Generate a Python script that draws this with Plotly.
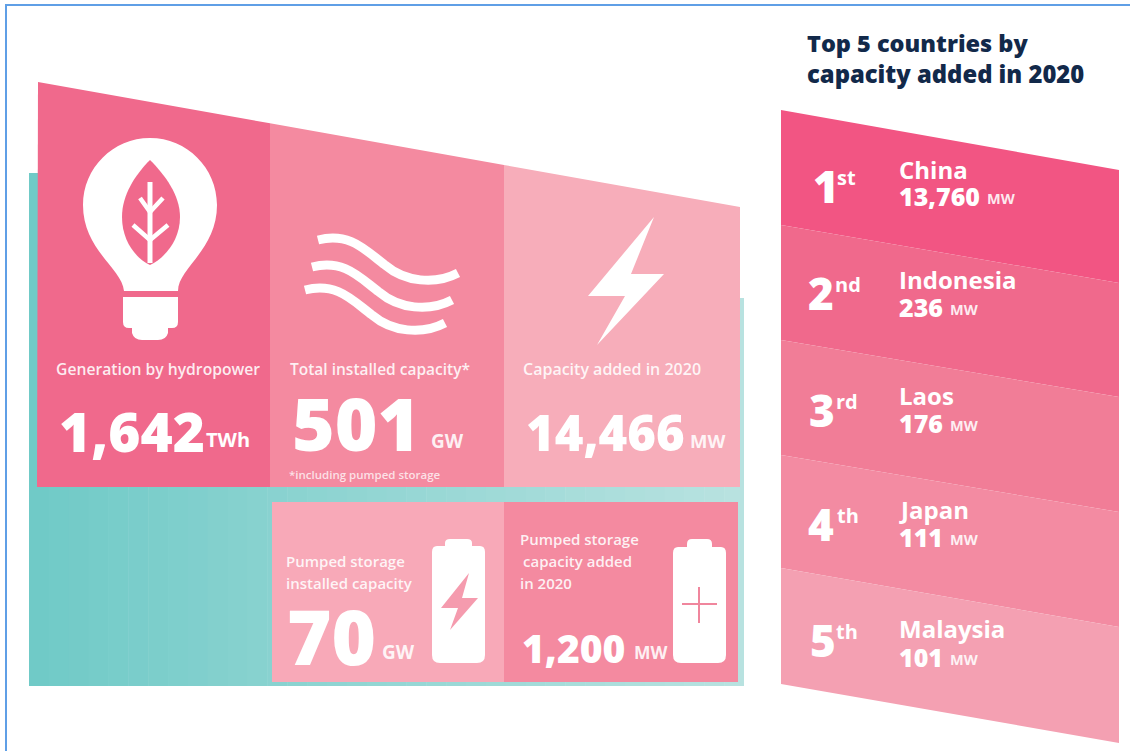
import plotly.graph_objects as go

# ---- data ----
stat_labels = ["Generation by hydropower", "Total installed capacity*", "Capacity added in 2020"]
stat_values = ["1,642", "501", "14,466"]
stat_units = ["TWh", "GW", "MW"]
storage_values = ["70", "1,200"]
storage_units = ["GW", "MW"]
footnote = "*including pumped storage"
title_lines = ["Top 5 countries by", "capacity added in 2020"]
ranks = ["1", "2", "3", "4", "5"]
rank_suffixes = ["st", "nd", "rd", "th", "th"]
countries = ["China", "Indonesia", "Laos", "Japan", "Malaysia"]
country_values = ["13,760", "236", "176", "111", "101"]
country_unit = "MW"

# ---- styling ----
P1, P2, P3 = "#f0698c", "#f48aa0", "#f7adba"
BANDS = ["#f25583", "#f0698c", "#f17d97", "#f38ba2", "#f4a0b2"]
NAVY = "#12294a"
FONT = "Open Sans"
SOFT = "rgba(255,255,255,0.88)"

fig = go.Figure()
shapes = []


def poly(xs, ys, color):
    fig.add_trace(go.Scatter(x=xs + xs[:1], y=ys + ys[:1], mode="lines", fill="toself",
                             fillcolor=color, line=dict(width=0), hoverinfo="skip",
                             showlegend=False))


def path(d, fill=None, line=None, width=0):
    shapes.append(dict(type="path", path=d, xref="x", yref="y", layer="above",
                       fillcolor=fill or "rgba(0,0,0,0)",
                       line=dict(color=line or "rgba(0,0,0,0)", width=width)))


def label(x, y, text, size, color="white", weight=700, anchor="left"):
    fig.add_annotation(x=x, y=y, text=text, xref="x", yref="y", showarrow=False,
                       xanchor=anchor, yanchor="middle", align="left", borderpad=0,
                       font=dict(family=FONT, size=size, color=color, weight=weight))


def top_edge(x):
    return 82 + (x - 38) * 125 / 702


# teal backdrop as narrow strips (horizontal gradient)
n = 36
x0, x1 = 29.0, 744.0
c0, c1 = (112, 202, 199), (184, 226, 224)
for i in range(n):
    a = x0 + (x1 - x0) * i / n
    b = x0 + (x1 - x0) * (i + 1) / n + 0.5
    t = i / (n - 1)
    c = tuple(round(c0[k] + (c1[k] - c0[k]) * t) for k in range(3))
    shapes.append(dict(type="rect", x0=a, x1=min(b, x1), y0=173 if a < 100 else 298, y1=686,
                       xref="x", yref="y", layer="below", line=dict(width=0),
                       fillcolor=f"rgb{c}"))

# upper panels
poly([38, 270, 270, 37], [top_edge(38), top_edge(270), 487, 487], P1)
poly([270, 504, 504, 270], [top_edge(270), top_edge(504), 487, 487], P2)
poly([504, 740, 740, 504], [top_edge(504), top_edge(740), 487, 487], P3)
# lower panels
poly([272, 504, 504, 272], [502, 502, 682, 682], "#f8a9b8")
poly([504, 738, 738, 504], [502, 502, 682, 682], P2)

# ranking bands
left_edges = [110, 225, 340, 455, 568, 684]
right_edges = [170, 283, 397, 512, 627, 743]
for i, col in enumerate(BANDS):
    poly([781, 1119, 1119, 781],
         [left_edges[i], right_edges[i], right_edges[i + 1], left_edges[i + 1]], col)

# blue page frame
shapes.append(dict(type="rect", x0=5, x1=7, y0=4, y1=751, xref="x", yref="y", layer="above",
                   fillcolor="#5f9fe6", line=dict(width=0)))
shapes.append(dict(type="rect", x0=5, x1=1130, y0=4, y1=6, xref="x", yref="y", layer="above",
                   fillcolor="#5f9fe6", line=dict(width=0)))

# light bulb
path("M124 291 C122 268 83 250 83 205 C83 168 113 138 150 138 C187 138 217 168 217 205 "
     "C217 250 178 268 178 291 Z", fill="white")
path("M123 297 L178 297 L178 322 Q178 328 172 328 L168 328 L168 333 Q166 340 158 340 "
     "L142 340 Q134 340 132 333 L132 328 L129 328 Q123 328 123 322 Z", fill="white")
path("M150 160 C135 175 122 195 122 217 C122 240 135 258 150 265 C165 258 180 240 180 217 "
     "C180 195 165 175 150 160 Z", fill=P1)
path("M150 182 L150 263", line="white", width=5)
path("M140 198 L150 212 L163 198", line="white", width=4.5)
path("M133 225 L150 240 L168 225", line="white", width=4.5)

# waves
for dx, dy in [(0, 0), (-6, 27), (-13, 50)]:
    path(f"M{318+dx} {240+dy} C{350+dx} {232+dy} {365+dx} {250+dy} {385+dx} {265+dy} "
         f"C{405+dx} {282+dy} {435+dx} {285+dy} {458+dx} {273+dy}", line="white", width=9)

# bolt
path("M654 217 L588 296 L625 296 L597 345 L664 274 L631 274 Z", fill="white")


def battery(x0, x1, top, bottom, c0, c1, cap):
    path(f"M{c0} {top-3} Q{c0} {cap} {c0+5} {cap} L{c1-5} {cap} Q{c1} {cap} {c1} {top-3} L{c1} {top} "
         f"L{x1-5} {top} Q{x1} {top} {x1} {top+6} L{x1} {bottom-8} Q{x1} {bottom} {x1-8} {bottom} "
         f"L{x0+8} {bottom} Q{x0} {bottom} {x0} {bottom-8} L{x0} {top+6} Q{x0} {top} {x0+5} {top} "
         f"L{c0} {top} Z", fill="white")


battery(432, 485, 546, 663, 445, 472, 539)
path("M469 573 L441 608 L458 608 L450 630 L478 598 L462 598 Z", fill="#f59bae")
battery(673, 726, 547, 663, 687, 712, 539)
path("M682 604 L717 604 M699 587 L699 623", line="#f0869d", width=2)

# upper stats
label(55, 369, stat_labels[0], 15.7, SOFT, weight=600)
label(58, 430, stat_values[0], 55, weight=800)
label(205, 439, stat_units[0], 20)
label(289, 369, stat_labels[1], 15.5, SOFT, weight=600)
label(291, 422, stat_values[1], 73, weight=800)
label(430, 441, stat_units[1], 19, SOFT)
label(288, 474, footnote, 11.5, "rgba(255,255,255,0.75)", weight=600)
label(522, 369, stat_labels[2], 16, SOFT, weight=600)
label(525, 432, stat_values[2], 49, weight=800)
label(689, 440, stat_units[2], 18.5, SOFT)

# lower stats
label(285, 561, "Pumped storage", 15, SOFT, weight=600)
label(285, 583, "installed capacity", 15, SOFT, weight=600)
label(286, 635, storage_values[0], 76, weight=800)
label(381, 652, storage_units[0], 19, SOFT)
label(519, 539, "Pumped storage", 15, SOFT, weight=600)
label(522, 561, "capacity added", 15, SOFT, weight=600)
label(519, 583, "in 2020", 15, SOFT, weight=600)
label(521, 647, storage_values[1], 39, weight=800)
label(633, 652, storage_units[1], 17.5, SOFT)

# ranking
label(806, 43, title_lines[0], 23.5, NAVY, weight=800)
label(806, 74, title_lines[1], 23.8, NAVY, weight=800)
rank_y = [186, 293, 410, 524, 640]
rank_x = [812, 807, 808, 807, 809]
sup_x = [836, 834, 835, 836, 835]
name_y = [169, 279, 395, 509, 628]
val_y = [196, 307, 423, 537, 657]
unit_x = [986, 949, 949, 949, 949]
for i in range(5):
    label(rank_x[i], rank_y[i], ranks[i], 44, weight=800)
    label(sup_x[i], rank_y[i] - 9, rank_suffixes[i], 20)
    label(898, name_y[i], countries[i], 24)
    label(898, val_y[i], country_values[i], 25, weight=800)
    label(unit_x[i], val_y[i] + 2, country_unit, 14.5, SOFT)

fig.update_layout(
    width=1130, height=751, autosize=False,
    margin=dict(l=0, r=0, t=0, b=0),
    paper_bgcolor="white", plot_bgcolor="white",
    showlegend=False, shapes=shapes,
    xaxis=dict(range=[0, 1130], visible=False, fixedrange=True),
    yaxis=dict(range=[751, 0], visible=False, fixedrange=True),
)
fig.write_html("out.html", config=dict(displayModeBar=False),
               post_script="document.body.style.margin='0';document.documentElement.style.overflow='hidden';")
